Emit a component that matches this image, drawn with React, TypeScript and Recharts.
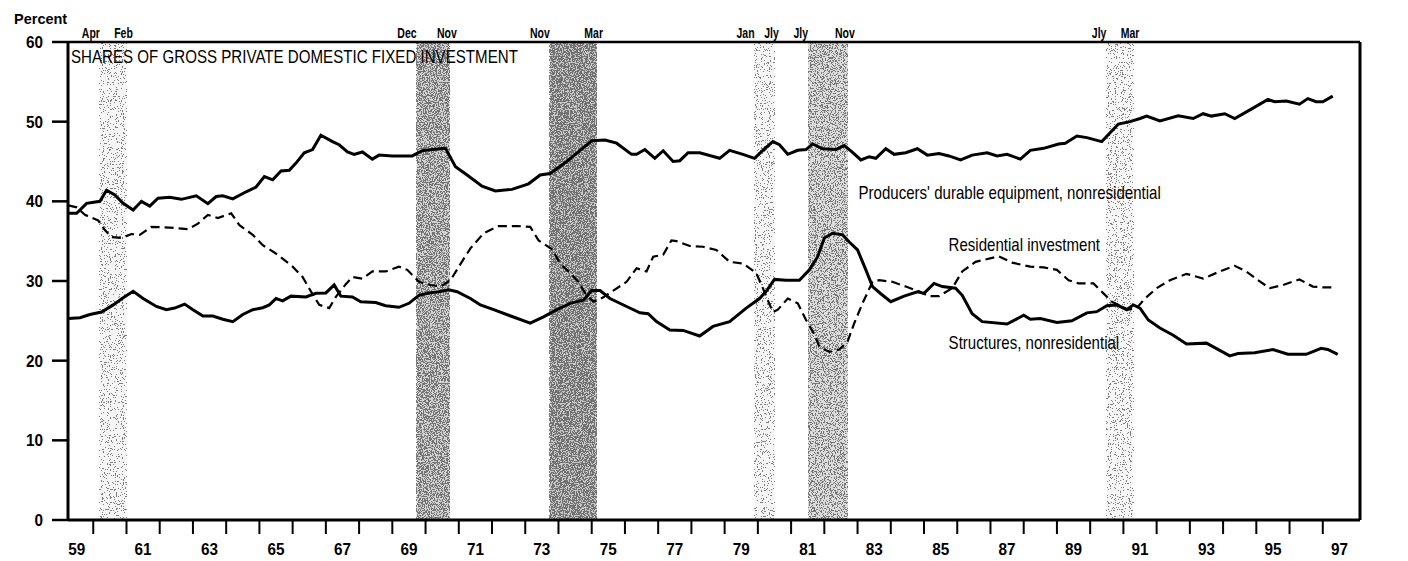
import React from "react";
import {
  LineChart,
  Line,
  XAxis,
  YAxis,
  ReferenceArea,
  ReferenceLine,
  ReferenceDot,
} from "recharts";

const FONT = "'Liberation Sans', Arial, Helvetica, sans-serif";

// Producers' durable equipment, nonresidential (percent of gross private domestic fixed investment)
const equipYears = [
  1959.25, 1959.5, 1959.8, 1960.2, 1960.4, 1960.65, 1960.9, 1961.2, 1961.45, 1961.7,
  1961.95, 1962.3, 1962.65, 1963.1, 1963.45, 1963.7, 1963.9, 1964.2, 1964.6, 1964.9,
  1965.15, 1965.4, 1965.65, 1965.9, 1966.1, 1966.35, 1966.6, 1966.85, 1967.2, 1967.4,
  1967.65, 1967.85, 1968.1, 1968.4, 1968.6, 1969.0, 1969.6, 1969.9, 1970.2, 1970.6,
  1970.9, 1971.25, 1971.7, 1972.1, 1972.6, 1973.1, 1973.45, 1973.75, 1974.25, 1974.65,
  1975.0, 1975.4, 1975.75, 1976.2, 1976.35, 1976.6, 1976.9, 1977.15, 1977.45, 1977.65,
  1977.9, 1978.25, 1978.85, 1979.15, 1979.55, 1979.9, 1980.15, 1980.45, 1980.65, 1980.9,
  1981.2, 1981.45, 1981.65, 1981.95, 1982.35, 1982.6, 1982.85, 1983.1, 1983.35, 1983.55,
  1983.85, 1984.1, 1984.45, 1984.8, 1985.1, 1985.45, 1985.75, 1986.1, 1986.45, 1986.9,
  1987.2, 1987.5, 1987.9, 1988.2, 1988.6, 1989.05, 1989.25, 1989.6, 1989.9, 1990.35,
  1990.6, 1990.85, 1991.2, 1991.5, 1991.7, 1992.1, 1992.65, 1993.1, 1993.4, 1993.65,
  1994.05, 1994.35, 1994.9, 1995.35, 1995.55, 1995.9, 1996.3, 1996.55, 1996.8, 1997.0,
  1997.3,
];
const equipShares = [
  38.5, 38.5, 39.75, 40.0, 41.4, 40.8, 39.75, 38.9, 40.0, 39.4,
  40.4, 40.5, 40.25, 40.7, 39.7, 40.6, 40.7, 40.3, 41.2, 41.8,
  43.1, 42.7, 43.8, 43.9, 44.8, 46.1, 46.5, 48.3, 47.5, 47.1,
  46.2, 45.9, 46.2, 45.3, 45.8, 45.7, 45.7, 46.35, 46.5, 46.65,
  44.35, 43.3, 41.9, 41.3, 41.5, 42.2, 43.3, 43.5, 45.0, 46.4,
  47.6, 47.7, 47.3, 45.9, 45.9, 46.5, 45.4, 46.35, 45.0, 45.1,
  46.1, 46.1, 45.4, 46.4, 45.9, 45.4, 46.4, 47.5, 47.1, 45.9,
  46.4, 46.5, 47.2, 46.6, 46.5, 47.0, 46.15, 45.2, 45.6, 45.4,
  46.6, 45.9, 46.1, 46.6, 45.8, 46.0, 45.7, 45.2, 45.8, 46.1,
  45.7, 45.9, 45.3, 46.4, 46.65, 47.2, 47.3, 48.2, 48.0, 47.5,
  48.6, 49.7, 50.0, 50.4, 50.7, 50.1, 50.75, 50.4, 51.0, 50.7,
  51.0, 50.4, 51.7, 52.8, 52.5, 52.6, 52.2, 52.9, 52.5, 52.5,
  53.2,
];

// Residential investment
const resYears = [
  1959.25, 1959.5, 1959.75, 1960.15, 1960.35, 1960.55, 1960.85, 1961.15, 1961.4, 1961.75,
  1962.3, 1962.85, 1963.15, 1963.45, 1963.75, 1964.15, 1964.4, 1964.8, 1965.1, 1965.55,
  1966.0, 1966.3, 1966.55, 1966.8, 1967.1, 1967.3, 1967.6, 1967.8, 1968.1, 1968.4,
  1968.8, 1969.2, 1969.45, 1969.8, 1970.15, 1970.45, 1970.75, 1971.0, 1971.35, 1971.75,
  1972.2, 1972.75, 1973.15, 1973.4, 1973.8, 1974.05, 1974.35, 1974.6, 1974.8, 1975.05,
  1975.35, 1975.65, 1976.05, 1976.35, 1976.65, 1976.85, 1977.15, 1977.4, 1977.55, 1977.95,
  1978.35, 1978.75, 1979.15, 1979.55, 1979.95, 1980.15, 1980.3, 1980.45, 1980.6, 1980.9,
  1981.2, 1981.45, 1981.7, 1981.85, 1982.15, 1982.45, 1982.7, 1982.9, 1983.15, 1983.45,
  1983.65, 1984.05, 1984.45, 1984.85, 1985.15, 1985.45, 1985.85, 1986.15, 1986.55, 1986.85,
  1987.25, 1987.65, 1988.2, 1988.6, 1989.0, 1989.35, 1989.65, 1990.1, 1990.4, 1990.65,
  1990.95, 1991.15, 1991.4, 1991.65, 1992.0, 1992.4, 1992.9, 1993.4, 1993.9, 1994.35,
  1994.7, 1995.05, 1995.4, 1995.8, 1996.3, 1996.7, 1997.0, 1997.3,
];
const resShares = [
  39.5, 39.25, 38.3, 37.6, 36.4, 35.5, 35.4, 35.9, 35.8, 36.8,
  36.7, 36.5, 37.2, 38.3, 37.9, 38.5, 37.0, 35.8, 34.5, 33.3,
  31.8, 30.5, 28.7, 27.0, 26.6, 28.0, 29.6, 30.5, 30.3, 31.2,
  31.2, 31.8, 31.4, 29.9, 29.5, 29.3, 30.1, 31.8, 34.1, 36.0,
  36.9, 36.9, 36.8, 35.1, 34.0, 32.2, 31.0, 29.9, 28.5, 27.4,
  27.95, 28.8, 29.9, 31.6, 31.2, 33.05, 33.3, 35.1, 35.0, 34.4,
  34.3, 33.9, 32.4, 32.2, 31.0, 29.1, 27.6, 26.1, 26.4, 27.8,
  27.2, 25.1, 23.3, 21.75, 21.1, 21.4, 22.4, 24.7, 27.2, 29.9,
  30.1, 29.9, 29.3, 28.7, 28.1, 28.1, 29.1, 31.2, 32.4, 32.7,
  33.1, 32.3, 31.8, 31.7, 31.4, 30.1, 29.7, 29.7, 28.45, 27.4,
  26.8, 26.4, 26.6, 27.8, 29.1, 30.1, 30.9, 30.3, 31.2, 31.9,
  31.2, 30.1, 29.1, 29.5, 30.2, 29.3, 29.2, 29.2,
];

// Structures, nonresidential
const structYears = [
  1959.25, 1959.6, 1959.9, 1960.25, 1960.6, 1960.9, 1961.2, 1961.5, 1961.9, 1962.2,
  1962.45, 1962.75, 1963.0, 1963.3, 1963.6, 1963.9, 1964.2, 1964.5, 1964.8, 1965.1,
  1965.3, 1965.5, 1965.7, 1965.95, 1966.4, 1966.7, 1967.0, 1967.25, 1967.45, 1967.8,
  1968.05, 1968.5, 1968.8, 1969.2, 1969.5, 1969.8, 1970.1, 1970.4, 1970.7, 1970.95,
  1971.35, 1971.65, 1972.05, 1972.5, 1973.15, 1973.55, 1973.95, 1974.35, 1974.75, 1975.0,
  1975.25, 1975.55, 1976.05, 1976.45, 1976.7, 1976.95, 1977.35, 1977.75, 1978.25, 1978.65,
  1979.15, 1979.65, 1980.05, 1980.25, 1980.5, 1980.85, 1981.25, 1981.55, 1981.8, 1982.0,
  1982.25, 1982.55, 1982.75, 1983.0, 1983.25, 1983.45, 1983.7, 1984.0, 1984.4, 1984.8,
  1985.0, 1985.3, 1985.55, 1985.95, 1986.15, 1986.45, 1986.75, 1987.5, 1988.0, 1988.2,
  1988.5, 1989.0, 1989.45, 1989.9, 1990.2, 1990.5, 1990.8, 1991.1, 1991.3, 1991.5,
  1991.75, 1992.1, 1992.5, 1992.9, 1993.5, 1993.9, 1994.2, 1994.45, 1994.95, 1995.5,
  1995.95, 1996.5, 1996.95, 1997.15, 1997.45,
];
const structShares = [
  25.3, 25.4, 25.8, 26.1, 27.0, 27.9, 28.7, 27.8, 26.8, 26.4,
  26.6, 27.1, 26.4, 25.6, 25.6, 25.2, 24.9, 25.8, 26.4, 26.65,
  27.0, 27.8, 27.5, 28.1, 28.0, 28.45, 28.5, 29.5, 28.1, 28.0,
  27.4, 27.3, 26.9, 26.7, 27.2, 28.2, 28.5, 28.65, 28.9, 28.65,
  27.8, 27.0, 26.4, 25.7, 24.7, 25.5, 26.4, 27.2, 27.6, 28.8,
  28.8, 27.8, 26.8, 26.0, 25.9, 24.9, 23.85, 23.8, 23.1, 24.3,
  24.9, 26.6, 27.8, 28.7, 30.2, 30.1, 30.1, 31.4, 33.05, 35.4,
  36.0, 35.8, 34.9, 33.9, 31.4, 29.3, 28.4, 27.4, 28.1, 28.65,
  28.45, 29.7, 29.3, 29.1, 28.2, 25.9, 24.9, 24.6, 25.7, 25.2,
  25.3, 24.8, 25.0, 26.0, 26.15, 26.9, 27.0, 26.4, 27.0, 26.6,
  25.1, 24.1, 23.2, 22.1, 22.2, 21.3, 20.6, 20.9, 21.0, 21.4,
  20.8, 20.8, 21.55, 21.4, 20.8,
];

// recession shading (fractional years) and the month labels above the frame
const recessionStart = [1960.2, 1969.73, 1973.74, 1979.9, 1981.51, 1990.49];
const recessionEnd = [1961.0, 1970.73, 1975.15, 1980.5, 1982.71, 1991.29];
const recessionStartLabel = ["Apr", "Dec", "Nov", "Jan", "Jly", "Jly"];
const recessionEndLabel = ["Feb", "Nov", "Mar", "Jly", "Nov", "Mar"];
// base tint and share of speckled pixels for each band
const recessionBase = ["#f5f5f5", "#d1d1d1", "#c7c7c7", "#f5f5f5", "#dbdbdb", "#f6f6f6"];
const recessionGrain = [0.13, 0.5, 0.62, 0.14, 0.38, 0.11];

const yTicks = [0, 10, 20, 30, 40, 50, 60];
const yearBoundaries = [
  1960, 1961, 1962, 1963, 1964, 1965, 1966, 1967, 1968, 1969, 1970, 1971, 1972,
  1973, 1974, 1975, 1976, 1977, 1978, 1979, 1980, 1981, 1982, 1983, 1984, 1985,
  1986, 1987, 1988, 1989, 1990, 1991, 1992, 1993, 1994, 1995, 1996, 1997,
];
const labelYears = [
  1959, 1961, 1963, 1965, 1967, 1969, 1971, 1973, 1975, 1977, 1979, 1981, 1983,
  1985, 1987, 1989, 1991, 1993, 1995, 1997,
];

const TITLE = "SHARES OF GROSS PRIVATE DOMESTIC FIXED INVESTMENT";
const X_DOMAIN: [number, number] = [1959.24, 1998.12];

const toPoints = (years: number[], values: number[]) =>
  years.map((year, i) => ({ year, value: values[i] }));

const equipData = toPoints(equipYears, equipShares);
const resData = toPoints(resYears, resShares);
const structData = toPoints(structYears, structShares);

const xTicks = [...yearBoundaries, ...labelYears.map((y) => y + 0.5)].sort((a, b) => a - b);

function NarrowText({
  x,
  y,
  sx = 1,
  anchor = "start",
  size = 15,
  weight = "normal",
  children,
}: any) {
  return (
    <text
      transform={`translate(${x},${y}) scale(${sx},1)`}
      textAnchor={anchor}
      fontSize={size}
      fontWeight={weight}
      fontFamily={FONT}
      fill="#000"
    >
      {children}
    </text>
  );
}

function XTick({ x, y, payload }: any) {
  const v = payload.value;
  if (Number.isInteger(v)) {
    return <line x1={x} x2={x} y1={y} y2={y + 14} stroke="#000" strokeWidth={2} />;
  }
  return (
    <NarrowText x={x} y={y + 35} anchor="middle" size={17} weight="bold" sx={0.9}>
      {String(Math.floor(v)).slice(2)}
    </NarrowText>
  );
}

function YTick({ x, y, payload }: any) {
  return (
    <NarrowText x={x} y={y + 6} anchor="end" size={17} weight="bold" sx={0.9}>
      {payload.value}
    </NarrowText>
  );
}

// grainy shading like the printed recession bars
const bandShape = (i: number) => (props: any) => {
  const { x, y, width, height } = props;
  if (x == null || !width) return null;
  const id = `grain-${i}`;
  const bins = 20;
  const table = Array.from({ length: bins }, (_, k) =>
    k / bins >= 1 - recessionGrain[i] ? 1 : 0
  ).join(" ");
  return (
    <g>
      <defs>
        <filter
          id={id}
          x={x}
          y={y}
          width={width}
          height={height}
          filterUnits="userSpaceOnUse"
          colorInterpolationFilters="sRGB"
        >
          <feTurbulence type="fractalNoise" baseFrequency="0.85" numOctaves={2} seed={i * 7 + 3} result="noise" />
          <feColorMatrix
            in="noise"
            type="matrix"
            values="0 0 0 0 0  0 0 0 0 0  0 0 0 0 0  3 0 0 0 -1"
            result="raw"
          />
          <feComponentTransfer in="raw" result="mask">
            <feFuncA type="discrete" tableValues={table} />
          </feComponentTransfer>
          <feFlood floodColor="#555555" floodOpacity={0.75} result="ink" />
          <feComposite in="ink" in2="mask" operator="in" />
        </filter>
      </defs>
      <rect x={x} y={y} width={width} height={height} fill={recessionBase[i]} />
      <rect x={x} y={y} width={width} height={height} fill="#000" filter={`url(#${id})`} />
    </g>
  );
};

const recessionLabel = (i: number) => (props: any) => {
  const vb = props.viewBox;
  if (!vb) return null;
  return (
    <g>
      <NarrowText x={vb.x} y={vb.y - 4} anchor="end" size={15} weight="bold" sx={0.7}>
        {recessionStartLabel[i]}
      </NarrowText>
      <NarrowText x={vb.x + vb.width - 3} y={vb.y - 4} anchor="middle" size={15} weight="bold" sx={0.7}>
        {recessionEndLabel[i]}
      </NarrowText>
    </g>
  );
};

const titleLabel = (props: any) => {
  const vb = props.viewBox;
  if (!vb) return null;
  return (
    <NarrowText x={vb.x + 3} y={vb.y + 21} size={18} sx={0.84}>
      {TITLE}
    </NarrowText>
  );
};

const seriesLabel = (text: string) => (props: any) => {
  const vb = props.viewBox;
  if (!vb) return null;
  return (
    <NarrowText x={vb.x + vb.width / 2} y={vb.y + vb.height / 2} size={17.5} sx={0.86}>
      {text}
    </NarrowText>
  );
};

const percentLabel = (props: any) => {
  const vb = props.viewBox;
  if (!vb) return null;
  return (
    <NarrowText x={vb.x + 6} y={vb.y - 18} size={14.5} weight="bold">
      Percent
    </NarrowText>
  );
};

export default function App() {
  return (
    <div style={{ position: "absolute", left: 0, top: 0, width: 1408, height: 561, background: "#fff" }}>
      <LineChart width={1408} height={561} margin={{ top: 42, right: 8, bottom: 11, left: 8 }}>
        <XAxis
          dataKey="year"
          type="number"
          domain={X_DOMAIN}
          allowDataOverflow
          ticks={xTicks}
          interval={0}
          tickLine={false}
          tickSize={0}
          tickMargin={0}
          height={30}
          axisLine={{ stroke: "#000", strokeWidth: 3 }}
          tick={<XTick />}
        />
        <YAxis
          yAxisId="left"
          type="number"
          domain={[0, 60]}
          ticks={yTicks}
          interval={0}
          width={60}
          tickSize={16}
          tickMargin={9}
          tickLine={{ stroke: "#000", strokeWidth: 2.5 }}
          axisLine={{ stroke: "#000", strokeWidth: 3 }}
          tick={<YTick />}
          label={percentLabel}
        />
        <YAxis
          yAxisId="right"
          orientation="right"
          type="number"
          domain={[0, 60]}
          ticks={yTicks}
          interval={0}
          width={40}
          tickSize={10}
          tickMargin={28}
          tickLine={{ stroke: "#000", strokeWidth: 2.5 }}
          axisLine={{ stroke: "#000", strokeWidth: 3 }}
          tick={<YTick />}
        />

        {recessionStart.map((start, i) => (
          <ReferenceArea
            key={`rec-${i}`}
            yAxisId="left"
            x1={start}
            x2={recessionEnd[i]}
            y1={0}
            y2={60}
            shape={bandShape(i)}
            label={recessionLabel(i)}
          />
        ))}

        <ReferenceLine
          yAxisId="left"
          y={60}
          stroke="#000"
          strokeWidth={2.5}
          label={titleLabel}
        />

        <Line
          yAxisId="left"
          data={resData}
          dataKey="value"
          type="linear"
          stroke="#000"
          strokeWidth={2.2}
          strokeDasharray="9 5"
          dot={false}
          activeDot={false}
          isAnimationActive={false}
        />
        <Line
          yAxisId="left"
          data={structData}
          dataKey="value"
          type="linear"
          stroke="#000"
          strokeWidth={3}
          dot={false}
          activeDot={false}
          isAnimationActive={false}
        />
        <Line
          yAxisId="left"
          data={equipData}
          dataKey="value"
          type="linear"
          stroke="#000"
          strokeWidth={3}
          dot={false}
          activeDot={false}
          isAnimationActive={false}
        />

        <ReferenceDot
          yAxisId="left"
          x={1983.03}
          y={40.3}
          r={0}
          fill="none"
          stroke="none"
          label={seriesLabel("Producers' durable equipment, nonresidential")}
        />
        <ReferenceDot
          yAxisId="left"
          x={1985.74}
          y={33.8}
          r={0}
          fill="none"
          stroke="none"
          label={seriesLabel("Residential investment")}
        />
        <ReferenceDot
          yAxisId="left"
          x={1985.74}
          y={21.5}
          r={0}
          fill="none"
          stroke="none"
          label={seriesLabel("Structures, nonresidential")}
        />
      </LineChart>
    </div>
  );
}
